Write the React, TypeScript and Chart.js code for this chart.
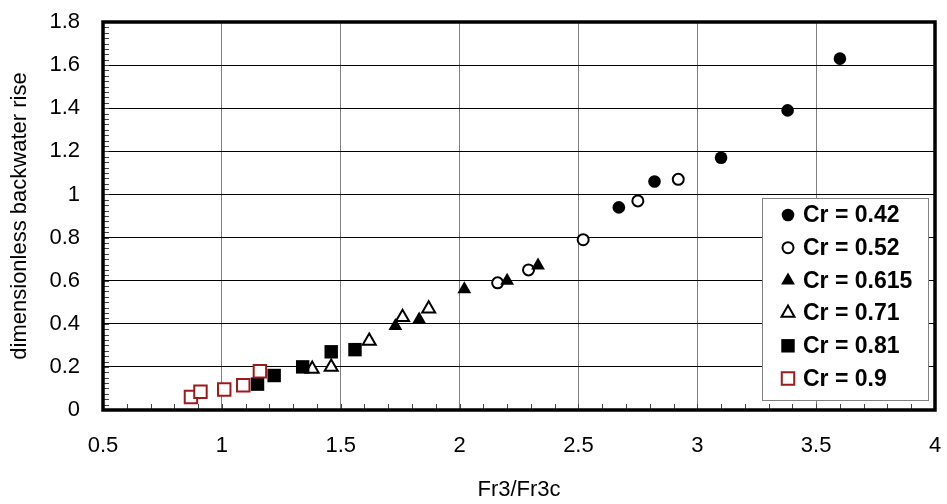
import React, { useEffect, useRef } from 'react';
import { Chart, registerables } from 'chart.js';

Chart.register(...registerables);

// ---- data ----
const seriesLabels = ['Cr = 0.42', 'Cr = 0.52', 'Cr = 0.615', 'Cr = 0.71', 'Cr = 0.81', 'Cr = 0.9'];

const cr042X = [2.67, 2.82, 3.10, 3.38, 3.60];
const cr042Y = [0.94, 1.06, 1.17, 1.39, 1.63];

const cr052X = [2.16, 2.29, 2.52, 2.75, 2.92];
const cr052Y = [0.59, 0.65, 0.79, 0.97, 1.07];

const cr0615X = [1.73, 1.83, 2.02, 2.20, 2.33];
const cr0615Y = [0.39, 0.42, 0.56, 0.60, 0.67];

const cr071X = [1.38, 1.46, 1.62, 1.76, 1.87];
const cr071Y = [0.19, 0.20, 0.32, 0.43, 0.47];

const cr081X = [1.15, 1.22, 1.34, 1.46, 1.56];
const cr081Y = [0.12, 0.16, 0.20, 0.27, 0.28];

const cr09X = [0.87, 0.91, 1.01, 1.09, 1.16];
const cr09Y = [0.06, 0.085, 0.095, 0.115, 0.18];

const xTicks = [0.5, 1, 1.5, 2, 2.5, 3, 3.5, 4];
const xTickLabels = ['0.5', '1', '1.5', '2', '2.5', '3', '3.5', '4'];
const yTicks = [0, 0.2, 0.4, 0.6, 0.8, 1, 1.2, 1.4, 1.6, 1.8];
const yTickLabels = ['0', '0.2', '0.4', '0.6', '0.8', '1', '1.2', '1.4', '1.6', '1.8'];

const xTitle = 'Fr3/Fr3c';
const yTitle = 'dimensionless backwater rise';

// ---- styles ----
const FONT = "'Liberation Sans', Arial, Helvetica, sans-serif";
const DARKRED = '#9E1A1A';

type MarkerStyle = { shape: 'circle' | 'triangle' | 'rect'; radius: number; fill: string; stroke: string; width: number };
const markerStyles: MarkerStyle[] = [
  { shape: 'circle', radius: 6.3, fill: '#000', stroke: '#000', width: 0 },
  { shape: 'circle', radius: 5.5, fill: '#fff', stroke: '#000', width: 2 },
  { shape: 'triangle', radius: 8, fill: '#000', stroke: '#000', width: 0 },
  { shape: 'triangle', radius: 7.5, fill: '#fff', stroke: '#000', width: 2 },
  { shape: 'rect', radius: 9.5, fill: '#000', stroke: '#000', width: 0 },
  { shape: 'rect', radius: 8.8, fill: '#fff', stroke: DARKRED, width: 2 },
];

const seriesX = [cr042X, cr052X, cr0615X, cr071X, cr081X, cr09X];
const seriesY = [cr042Y, cr052Y, cr0615Y, cr071Y, cr081Y, cr09Y];

function drawMarker(ctx: CanvasRenderingContext2D, m: MarkerStyle, x: number, y: number) {
  ctx.beginPath();
  const r = m.radius;
  if (m.shape === 'circle') {
    ctx.arc(x, y, r, 0, Math.PI * 2);
  } else if (m.shape === 'triangle') {
    ctx.moveTo(x, y - r);
    ctx.lineTo(x + r * Math.sin(2 * Math.PI / 3), y - r * Math.cos(2 * Math.PI / 3));
    ctx.lineTo(x + r * Math.sin(4 * Math.PI / 3), y - r * Math.cos(4 * Math.PI / 3));
    ctx.closePath();
  } else {
    const s = r * Math.SQRT1_2;
    ctx.rect(x - s, y - s, 2 * s, 2 * s);
  }
  ctx.fillStyle = m.fill;
  ctx.fill();
  if (m.width > 0) {
    ctx.lineWidth = m.width;
    ctx.strokeStyle = m.stroke;
    ctx.stroke();
  }
}

const framePlugin = {
  id: 'frameAndMinorTicks',
  beforeDatasetsDraw(chart: any) {
    const { ctx, chartArea: a, scales } = chart;
    const x = scales.x;
    const y = scales.y;
    ctx.save();
    ctx.strokeStyle = '#444';
    ctx.lineWidth = 1;
    ctx.beginPath();
    for (let i = 0; i <= 35; i++) {
      const px = Math.round(x.getPixelForValue(0.5 + i * 0.1)) + 0.5;
      ctx.moveTo(px, a.bottom);
      ctx.lineTo(px, a.bottom - 6);
    }
    for (let i = 0; i <= 72; i++) {
      const py = Math.round(y.getPixelForValue(i * 0.025)) + 0.5;
      ctx.moveTo(a.left, py);
      ctx.lineTo(a.left + 6, py);
    }
    ctx.stroke();
    ctx.lineWidth = 3.5;
    ctx.strokeStyle = '#000';
    ctx.strokeRect(a.left, a.top, a.right - a.left, a.bottom - a.top);
    ctx.restore();
  },
};

const legendPlugin = {
  id: 'insideLegend',
  afterDraw(chart: any) {
    const { ctx, chartArea: a } = chart;
    const w = 166;
    const h = 202;
    const left = a.right - 7 - w;
    const top = a.bottom - 10 - h;
    ctx.save();
    ctx.fillStyle = '#fff';
    ctx.fillRect(left, top, w, h);
    ctx.strokeStyle = '#808080';
    ctx.lineWidth = 1;
    ctx.strokeRect(Math.round(left) + 0.5, Math.round(top) + 0.5, w, h);
    ctx.font = `bold 23px ${FONT}`;
    ctx.textBaseline = 'middle';
    ctx.textAlign = 'left';
    chart.data.datasets.forEach((ds: any, i: number) => {
      const cy = top + 17 + i * 32.7;
      drawMarker(ctx, markerStyles[i], left + 26, cy);
      ctx.fillStyle = '#000';
      ctx.fillText(ds.label, left + 41, cy + 1);
    });
    ctx.restore();
  },
};

export default function App() {
  const ref = useRef<HTMLCanvasElement>(null);
  useEffect(() => {
    document.body.style.margin = '0';
    const datasets = seriesLabels.map((label, i) => {
      const m = markerStyles[i];
      return {
        label,
        data: seriesX[i].map((xv, j) => ({ x: xv, y: seriesY[i][j] })),
        showLine: false,
        pointStyle: m.shape,
        pointRadius: m.radius,
        pointBackgroundColor: m.fill,
        pointBorderColor: m.stroke,
        pointBorderWidth: m.width,
        order: seriesLabels.length - i,
      };
    });
    const tickFont = { family: FONT, size: 22 };
    const chart = new Chart(ref.current as HTMLCanvasElement, {
      type: 'scatter',
      data: { datasets },
      options: {
        animation: false,
        responsive: false,
        maintainAspectRatio: false,
        events: [],
        layout: { padding: { left: 0, right: 12, top: 22, bottom: 0 } },
        plugins: { legend: { display: false }, tooltip: { enabled: false } },
        scales: {
          x: {
            type: 'linear',
            min: 0.5,
            max: 4,
            afterBuildTicks: (s: any) => {
              s.ticks = xTicks.map((v) => ({ value: v }));
            },
            afterFit: (s: any) => {
              s.height = 94;
              s.paddingLeft = 0;
              s.paddingRight = 0;
            },
            ticks: {
              autoSkip: false,
              maxRotation: 0,
              padding: 23,
              color: '#000',
              font: tickFont,
              callback: (v: any) => {
                const i = xTicks.indexOf(Number(v));
                return i >= 0 ? xTickLabels[i] : '';
              },
            },
            grid: { color: '#808080', lineWidth: 1, drawTicks: false },
            border: { display: false },
            title: { display: true, text: xTitle, color: '#000', font: tickFont, padding: { top: 0, bottom: 1 } },
          },
          y: {
            type: 'linear',
            min: 0,
            max: 1.8,
            afterBuildTicks: (s: any) => {
              s.ticks = yTicks.map((v) => ({ value: v }));
            },
            afterFit: (s: any) => {
              s.width = 103;
              s.paddingTop = 0;
              s.paddingBottom = 0;
            },
            ticks: {
              autoSkip: false,
              padding: 23,
              color: '#000',
              font: tickFont,
              callback: (v: any) => {
                const i = yTicks.indexOf(Number(v));
                return i >= 0 ? yTickLabels[i] : '';
              },
            },
            grid: { color: '#000', lineWidth: 1, drawTicks: false },
            border: { display: false },
            title: { display: true, text: yTitle, color: '#000', font: tickFont, padding: { top: 7, bottom: 0 } },
          },
        },
      } as any,
      plugins: [framePlugin, legendPlugin],
    });
    return () => chart.destroy();
  }, []);
  return (
    <div style={{ width: 947, height: 504 }}>
      <canvas ref={ref} width={947} height={504} style={{ display: 'block' }} />
    </div>
  );
}
